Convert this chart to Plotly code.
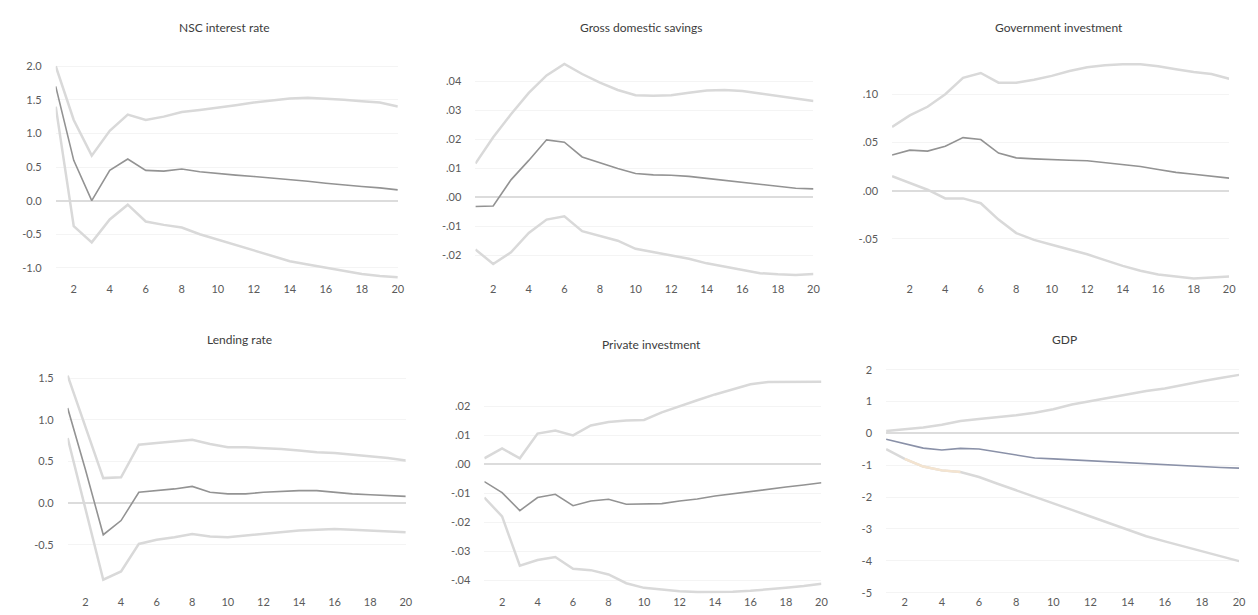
import plotly.graph_objects as go

W, H = 1258, 615
periods = list(range(1, 21))
xtick_vals = list(range(2, 21, 2))

titles = ["NSC interest rate", "Gross domestic savings", "Government investment",
          "Lending rate", "Private investment", "GDP"]

# NSC interest rate
nsc_mean = [1.70, 0.60, 0.00, 0.45, 0.62, 0.45, 0.44, 0.47, 0.43, 0.40, 0.38, 0.36, 0.34, 0.31, 0.29, 0.26, 0.23, 0.21, 0.19, 0.16]
nsc_upper = [2.00, 1.20, 0.67, 1.04, 1.28, 1.20, 1.25, 1.32, 1.35, 1.38, 1.42, 1.46, 1.49, 1.52, 1.53, 1.52, 1.50, 1.48, 1.46, 1.40]
nsc_lower = [1.40, -0.38, -0.62, -0.28, -0.06, -0.31, -0.36, -0.40, -0.50, -0.58, -0.66, -0.74, -0.82, -0.90, -0.95, -1.00, -1.05, -1.09, -1.12, -1.14]

# Gross domestic savings
gds_mean = [-0.0032, -0.0030, 0.0060, 0.0127, 0.0198, 0.0190, 0.0139, 0.0118, 0.0099, 0.0082, 0.0077, 0.0076, 0.0072, 0.0065, 0.0058, 0.0052, 0.0045, 0.0037, 0.0031, 0.0029]
gds_upper = [0.0116, 0.0207, 0.0286, 0.0360, 0.0420, 0.0460, 0.0425, 0.0395, 0.0370, 0.0352, 0.0350, 0.0352, 0.0360, 0.0368, 0.0370, 0.0366, 0.0358, 0.0350, 0.0342, 0.0332]
gds_lower = [-0.0180, -0.0230, -0.0190, -0.0123, -0.0077, -0.0066, -0.0117, -0.0134, -0.0150, -0.0178, -0.0190, -0.0200, -0.0212, -0.0228, -0.0240, -0.0252, -0.0262, -0.0266, -0.0268, -0.0265]

# Government investment
gi_mean = [0.037, 0.042, 0.041, 0.046, 0.055, 0.053, 0.039, 0.034, 0.033, 0.032, 0.0315, 0.031, 0.029, 0.027, 0.025, 0.022, 0.019, 0.017, 0.015, 0.013]
gi_upper = [0.066, 0.078, 0.087, 0.100, 0.117, 0.122, 0.112, 0.112, 0.115, 0.119, 0.124, 0.128, 0.130, 0.131, 0.131, 0.129, 0.126, 0.123, 0.121, 0.116]
gi_lower = [0.015, 0.008, 0.001, -0.008, -0.008, -0.013, -0.030, -0.044, -0.051, -0.056, -0.061, -0.066, -0.072, -0.078, -0.083, -0.087, -0.089, -0.091, -0.090, -0.089]

# Lending rate
lr_mean = [1.14, 0.40, -0.38, -0.21, 0.13, 0.15, 0.17, 0.20, 0.13, 0.11, 0.11, 0.13, 0.14, 0.15, 0.15, 0.13, 0.11, 0.10, 0.09, 0.08]
lr_upper = [1.53, 0.92, 0.30, 0.31, 0.70, 0.72, 0.74, 0.76, 0.71, 0.67, 0.67, 0.66, 0.65, 0.63, 0.61, 0.60, 0.58, 0.56, 0.54, 0.51]
lr_lower = [0.78, -0.07, -0.92, -0.82, -0.49, -0.44, -0.41, -0.37, -0.40, -0.41, -0.39, -0.37, -0.35, -0.33, -0.32, -0.31, -0.32, -0.33, -0.34, -0.35]

# Private investment
pi_mean = [-0.0060, -0.0098, -0.0160, -0.0115, -0.0104, -0.0143, -0.0127, -0.0121, -0.0138, -0.0138, -0.0136, -0.0127, -0.0120, -0.0110, -0.0102, -0.0093, -0.0086, -0.0079, -0.0072, -0.0064]
pi_upper = [0.0020, 0.0054, 0.0020, 0.0105, 0.0116, 0.0099, 0.0133, 0.0145, 0.0150, 0.0152, 0.0178, 0.0200, 0.0220, 0.0240, 0.0258, 0.0275, 0.0283, 0.0284, 0.0284, 0.0284]
pi_lower = [-0.0115, -0.0180, -0.0350, -0.0330, -0.0320, -0.0360, -0.0365, -0.0380, -0.0410, -0.0426, -0.0432, -0.0438, -0.0440, -0.0440, -0.0439, -0.0436, -0.0432, -0.0426, -0.0420, -0.0412]

# GDP
gdp_mean = [-0.18, -0.33, -0.46, -0.52, -0.47, -0.49, -0.59, -0.69, -0.77, -0.80, -0.83, -0.87, -0.90, -0.93, -0.96, -1.00, -1.02, -1.04, -1.07, -1.09]
gdp_upper = [0.08, 0.13, 0.19, 0.27, 0.39, 0.45, 0.50, 0.57, 0.65, 0.76, 0.91, 1.02, 1.12, 1.22, 1.33, 1.41, 1.53, 1.64, 1.74, 1.84]
gdp_lower = [-0.49, -0.80, -1.04, -1.16, -1.21, -1.37, -1.58, -1.78, -1.99, -2.20, -2.40, -2.61, -2.82, -3.03, -3.23, -3.39, -3.54, -3.70, -3.85, -4.01]

# y tick labels
yt_nsc = [2.0, 1.5, 1.0, 0.5, 0.0, -0.5, -1.0]
yl_nsc = ["2.0", "1.5", "1.0", "0.5", "0.0", "-0.5", "-1.0"]
yt_gds = [0.04, 0.03, 0.02, 0.01, 0.0, -0.01, -0.02]
yl_gds = [".04", ".03", ".02", ".01", ".00", "-.01", "-.02"]
yt_gi = [0.10, 0.05, 0.0, -0.05]
yl_gi = [".10", ".05", ".00", "-.05"]
yt_lr = [1.5, 1.0, 0.5, 0.0, -0.5]
yl_lr = ["1.5", "1.0", "0.5", "0.0", "-0.5"]
yt_pi = [0.02, 0.01, 0.0, -0.01, -0.02, -0.03, -0.04]
yl_pi = [".02", ".01", ".00", "-.01", "-.02", "-.03", "-.04"]
yt_gdp = [2, 1, 0, -1, -2, -3, -4, -5]
yl_gdp = ["2", "1", "0", "-1", "-2", "-3", "-4", "-5"]

panels = [
    dict(mean=nsc_mean, up=nsc_upper, lo=nsc_lower, yt=yt_nsc, yl=yl_nsc,
         xpx=(48, 392), ypx=(50, 274), yr=(-1.2, 2.1), tpx=(218, 18)),
    dict(mean=gds_mean, up=gds_upper, lo=gds_lower, yt=yt_gds, yl=yl_gds,
         xpx=(470, 810), ypx=(50, 274), yr=(-0.029, 0.0475), tpx=(637, 18)),
    dict(mean=gi_mean, up=gi_upper, lo=gi_lower, yt=yt_gi, yl=yl_gi,
         xpx=(889, 1228), ypx=(50, 274), yr=(-0.094, 0.136), tpx=(1057, 18)),
    dict(mean=lr_mean, up=lr_upper, lo=lr_lower, yt=yt_lr, yl=yl_lr,
         xpx=(60, 400), ypx=(358, 590), yr=(-1.094, 1.663), tpx=(233, 333)),
    dict(mean=pi_mean, up=pi_upper, lo=pi_lower, yt=yt_pi, yl=yl_pi,
         xpx=(479, 818), ypx=(358, 590), yr=(-0.0448, 0.0343), tpx=(647, 338)),
    dict(mean=gdp_mean, up=gdp_upper, lo=gdp_lower, yt=yt_gdp, yl=yl_gdp,
         xpx=(883, 1238), ypx=(358, 590), yr=(-5.05, 2.165), tpx=(1062, 333)),
]

BAND = "#d9d9d9"
MEAN = "#939393"
GDP_MEAN = "#8a91a8"
TICKFONT = dict(family="Lato, 'Open Sans', sans-serif", size=11, color="#5a5a5a")

fig = go.Figure()
layout = dict(width=W, height=H, autosize=False, showlegend=False,
              margin=dict(l=0, r=0, t=0, b=0),
              paper_bgcolor="white", plot_bgcolor="white", annotations=[])

for i, p in enumerate(panels):
    k = "" if i == 0 else str(i + 1)
    xa, ya = "x" + k, "y" + k
    mean_col = GDP_MEAN if i == 5 else MEAN
    fig.add_trace(go.Scatter(x=periods, y=p["up"], mode="lines", xaxis=xa, yaxis=ya,
                             line=dict(color=BAND, width=2.5), hoverinfo="skip"))
    fig.add_trace(go.Scatter(x=periods, y=p["lo"], mode="lines", xaxis=xa, yaxis=ya,
                             line=dict(color=BAND, width=2.5), hoverinfo="skip"))
    if i == 5:
        fig.add_trace(go.Scatter(x=periods[1:5], y=p["lo"][1:5], mode="lines", xaxis=xa, yaxis=ya,
                                 line=dict(color="#f4e4d0", width=2.5), hoverinfo="skip"))
    fig.add_trace(go.Scatter(x=periods, y=p["mean"], mode="lines", xaxis=xa, yaxis=ya,
                             line=dict(color=mean_col, width=1.6)))

    x0, x1 = p["xpx"]
    yt0, yb0 = p["ypx"]
    layout["xaxis" + k] = dict(
        domain=[x0 / W, x1 / W], anchor=ya, range=[1, 20],
        tickmode="array", tickvals=xtick_vals, ticktext=[str(v) for v in xtick_vals],
        showgrid=False, zeroline=False, showline=False, ticks="",
        tickfont=TICKFONT, fixedrange=True)
    layout["yaxis" + k] = dict(
        domain=[1 - yb0 / H, 1 - yt0 / H], anchor=xa, range=list(p["yr"]),
        tickmode="array", tickvals=p["yt"], ticktext=p["yl"],
        showgrid=True, gridcolor="#f4f4f4", gridwidth=1,
        zeroline=True, zerolinecolor="#dcdcdc", zerolinewidth=2,
        showline=False, ticks="", ticklabelstandoff=13,
        tickfont=TICKFONT, fixedrange=True)
    tx, ty = p["tpx"]
    layout["annotations"].append(dict(
        text=titles[i], xref="paper", yref="paper", x=tx / W, y=1 - ty / H,
        xanchor="center", yanchor="middle", showarrow=False,
        font=dict(family="Lato, 'Open Sans', sans-serif", size=12, color="#3c3c3c")))

fig.update_layout(**layout)
fig.write_html("out.html")
